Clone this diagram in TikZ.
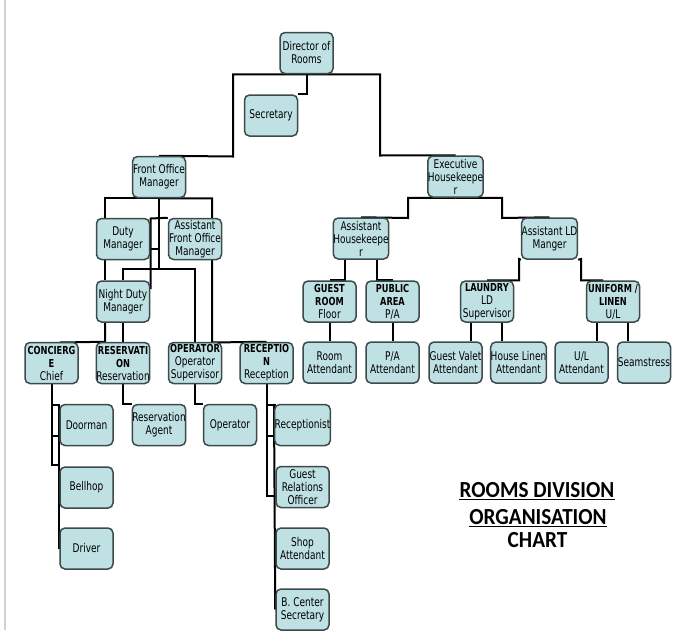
\documentclass[tikz,border=0pt]{standalone}
\usepackage{fontspec}
\newfontfamily\boxfont[FakeStretch=0.75]{DejaVu Sans}
\newfontfamily\titlefont[FakeStretch=0.92]{Carlito}
\newcommand\boldpart[1]{{\bfseries\fontsize{11}{13}\selectfont #1}}
\pgfdeclarelayer{bg}
\pgfsetlayers{bg,main}
\definecolor{boxfill}{RGB}{192,225,228}
\definecolor{boxline}{RGB}{60,74,74}
\tikzset{
  box/.style={draw=boxline, fill=boxfill, line width=1.5pt, rounded corners=5pt,
    minimum width=53pt, minimum height=41pt, inner sep=0pt, align=center,
    font=\boxfont\fontsize{12}{13}\selectfont},
  conn/.style={draw=black, line width=2pt},
  titletext/.style={inner sep=0pt, anchor=base, font=\titlefont\bfseries\fontsize{23}{25}\selectfont},
  uline/.style={line width=1.4pt}
}
\begin{document}
\begin{tikzpicture}[x=1pt,y=-1pt]
\useasboundingbox (0,0) rectangle (694,630);

% top levels
\node[box] (dir) at (306.5,53) {Director of\\Rooms};
\node[box] (sec) at (271,115.5) {Secretary};
\node[box] (fom) at (159,177) {Front Office\\Manager};
\node[box] (exh) at (455.5,176.5) {Executive\\Housekeepe\\r};
% front office side
\node[box] (dm) at (123,239) {Duty\\Manager};
\node[box] (afom) at (195,239) {Assistant\\Front Office\\Manager};
\node[box] (ndm) at (123,301.5) {Night Duty\\Manager};
\node[box] (con) at (51.5,363) {\boldpart{CONCIERG}\\\boldpart{E}\\Chief};
\node[box] (res) at (123,363) {\boldpart{RESERVATI}\\\boldpart{ON}\\Reservation};
\node[box] (op) at (195,363) {\boldpart{OPERATOR}\\Operator\\Supervisor};
\node[box] (rec) at (266.5,363) {\boldpart{RECEPTIO}\\\boldpart{N}\\Reception};
\node[box] (door) at (86.5,425) {Doorman};
\node[box] (bell) at (86.5,487.5) {Bellhop};
\node[box] (drv) at (86.5,548.5) {Driver};
\node[box] (rag) at (159,425) {Reservation\\Agent};
\node[box] (opr) at (230,425) {Operator};
\node[box] (rcp) at (302.5,425) {Receptionist};
\node[box] (gro) at (302.5,487) {Guest\\Relations\\Officer};
\node[box] (shop) at (302.5,548.5) {Shop\\Attendant};
\node[box] (bcs) at (302.5,609.5) {B. Center\\Secretary};
% housekeeping side
\node[box] (ahk) at (361,238.5) {Assistant\\Housekeepe\\r};
\node[box] (ald) at (549.5,238.5) {Assistant LD\\Manger};
\node[box] (gr) at (329.5,301.5) {\boldpart{GUEST}\\\boldpart{ROOM}\\Floor};
\node[box] (pa) at (392.5,301.5) {\boldpart{PUBLIC}\\\boldpart{AREA}\\P/A};
\node[box] (la) at (487,301.5) {\boldpart{LAUNDRY}\\LD\\Supervisor};
\node[box] (un) at (613,301.5) {\boldpart{UNIFORM /}\\\boldpart{LINEN}\\U/L};
\node[box] (ra) at (329.5,362.5) {Room\\Attendant};
\node[box] (paa) at (392.5,362.5) {P/A\\Attendant};
\node[box] (gva) at (455.5,362.5) {Guest Valet\\Attendant};
\node[box] (hla) at (518.5,362.5) {House Linen\\Attendant};
\node[box] (ula) at (581.5,362.5) {U/L\\Attendant};
\node[box] (sea) at (644,362.5) {Seamstress};

% title
\node[titletext] (t1) at (537,497) {ROOMS DIVISION};
\node[titletext] (t2) at (538,524) {ORGANISATION};
\node[titletext] (t3) at (537.5,547) {CHART};
\draw[uline] ([yshift=-2.5pt]t1.base west) -- ([yshift=-2.5pt]t1.base east);
\draw[uline] ([yshift=-2.5pt]t2.base west) -- ([yshift=-2.5pt]t2.base east);

\begin{pgfonlayer}{bg}
\fill[white] (0,0) rectangle (694,630);
\draw[gray!35, line width=2pt] (5,0) -- (5,630);
% director
\draw[conn] (dir.south) -| (233,156.5) -- (fom.north);
\draw[conn] (dir.south) -| (380,155.5) -- (exh.north);
\draw[conn] (dir.south) |- (sec.north east);
% front office manager
\draw[conn] (fom.south) -| ([xshift=-18pt]dm.north);
\draw[conn] (fom.south) -| (212,342.5) -- (rec.north);
\draw[conn] (fom.south) -- (159,269) -| (ndm.north);
\draw[conn] (159,269) -| (op.north);
\draw[conn] (afom.north west) -- (150.5,218.5) -- (150.5,289);
\draw[conn] (150.5,249) -- (159,249);
% duty managers
\draw[conn] ([xshift=-18pt]dm.south) -- ([xshift=-18pt]ndm.north);
\draw[conn] ([xshift=-18pt]ndm.south) -- ([xshift=-18pt]res.north) -- (60,342.5);
\draw[conn] (ndm.south) -- (res.north);
% concierge
\draw[conn] (con.south) -- (51.5,465) -- (60,465);
\draw[conn] (51.5,405) -- (60,405);
\draw[conn] (51.5,436) -- (60,436);
\draw[conn] (door.north west) -- (drv.west);
% reservation, operator
\draw[conn] (res.south) |- (rag.north west);
\draw[conn] (op.south) |- (opr.north west);
% reception
\draw[conn] (rec.south) -- (266.5,496) -- (276,496);
\draw[conn] (266.5,405) -- (276,405);
\draw[conn] (266.5,436) -- (276,436);
\draw[conn] (rcp.north west) -- (bcs.west);
% executive housekeeper
\draw[conn] (exh.south) -| (408,218) -- (ahk.north);
\draw[conn] (exh.south) -| (502,218) -- (ald.north);
\draw[conn] ([xshift=-16pt]ahk.south) |- (gr.north);
\draw[conn] ([xshift=16pt]ahk.south) |- (pa.north);
\draw[conn] (gr.south) -- (ra.north);
\draw[conn] (pa.south) -- (paa.north);
\draw[conn] (ald.south west) -- (519,259) |- (la.north);
\draw[conn] (ald.south east) -- (581,259) |- ([xshift=-10pt]un.north);
\draw[conn] ([xshift=-16pt]la.south) -- ([xshift=15.5pt]gva.north);
\draw[conn] ([xshift=15pt]la.south) -- ([xshift=-16.5pt]hla.north);
\draw[conn] ([xshift=-16pt]un.south) -- ([xshift=15.5pt]ula.north);
\draw[conn] ([xshift=15pt]un.south) -- ([xshift=-16pt]sea.north);
\end{pgfonlayer}
\end{tikzpicture}
\end{document}
